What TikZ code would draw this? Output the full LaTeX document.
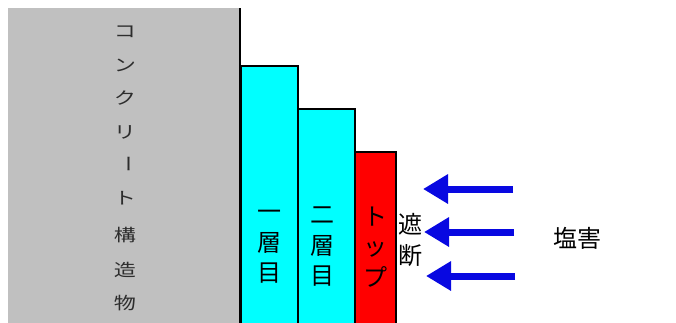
\documentclass[tikz,border=0pt]{standalone}
\usepackage{fontspec}
\newfontfamily\jp{Noto Sans CJK JP}
\usetikzlibrary{arrows.meta}
\definecolor{wallgray}{RGB}{192,192,192}
\definecolor{layercyan}{RGB}{0,255,255}
\definecolor{topred}{RGB}{255,0,0}
\definecolor{saltblue}{RGB}{8,8,225}
\definecolor{walltext}{RGB}{45,45,45}
\tikzset{
  layer/.style={draw=black, line width=1.6pt},
  bigtext/.style={inner sep=0pt, align=center, font=\jp\fontsize{24}{30.5}\selectfont},
  walltxt/.style={inner sep=0pt, text=walltext, xscale=1.3, font=\jp\fontsize{17}{18}\selectfont},
  saltarrow/.style={draw=saltblue, line width=7pt, -{Triangle[length=25pt,width=28pt]}}
}
\begin{document}
\begin{tikzpicture}[x=1pt,y=-1pt]
\useasboundingbox (0,0) rectangle (676,322);
\begin{scope}
\clip (0,0) rectangle (676,322);
\fill[wallgray] (8,8) rectangle (240,340);
\draw[line width=2.6pt] (240,8) -- (240,340);
\filldraw[layer, fill=layercyan] (241,66) rectangle (298,340);
\filldraw[layer, fill=layercyan] (298,109) rectangle (355,340);
\filldraw[layer, fill=topred] (355,152) rectangle (396,340);
\end{scope}
% wall text
\node[walltxt] (w1) at (125,32) {コ};
\node[walltxt] (w2) at (125,65) {ン};
\node[walltxt] (w3) at (125,98) {ク};
\node[walltxt] (w4) at (125,132) {リ};
\node[walltxt, rotate=-90] (w5) at (125,164) {ー};
\node[walltxt] (w6) at (125,198) {ト};
\node[walltxt] (w7) at (125,235) {構};
\node[walltxt] (w8) at (125,270) {造};
\node[walltxt] (w9) at (125,303) {物};
% layer labels
\node[bigtext] (l1) at (269,247) {一\\層\\目};
\node[bigtext] (l2) at (322,247) {二\\層\\目};
\node[bigtext] (l3) at (375,247) {ト\\ッ\\プ};
\node[bigtext] (sh) at (410,240) {遮\\断};
\node[bigtext, font=\jp\fontsize{24}{30}\selectfont] (en) at (577,238) {塩害};
% arrows
\coordinate (t1) at (513,189); \coordinate (h1) at (423,189);
\coordinate (t2) at (514,232); \coordinate (h2) at (424,232);
\coordinate (t3) at (515,276); \coordinate (h3) at (426,276);
\draw[saltarrow] (t1) -- (h1);
\draw[saltarrow] (t2) -- (h2);
\draw[saltarrow] (t3) -- (h3);
\end{tikzpicture}
\end{document}
